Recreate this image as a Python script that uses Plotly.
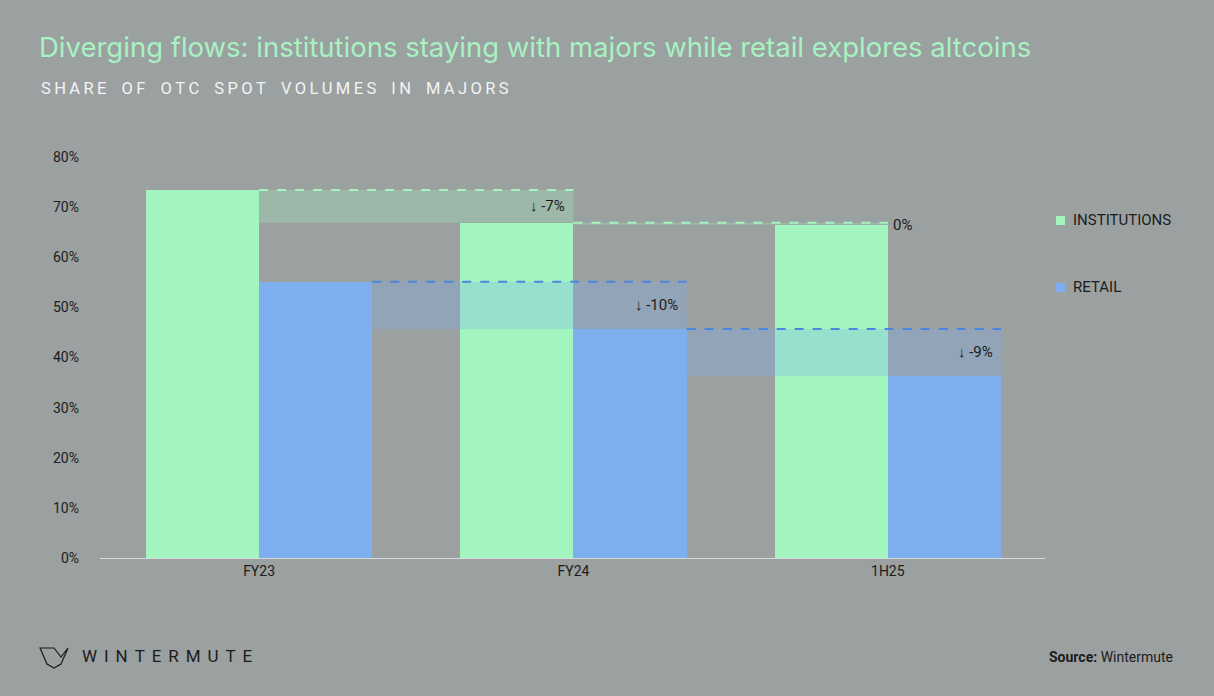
import plotly.graph_objects as go

categories = ["FY23", "FY24", "1H25"]
institutions = [73.4, 66.9, 66.5]
retail = [55.1, 45.7, 36.3]
change_inst = ["↓ -7%", "0%"]
change_retail = ["↓ -10%", "↓ -9%"]
y_ticks = [0, 10, 20, 30, 40, 50, 60, 70, 80]

BG = "#9ba0a0"
GREEN = "#a3f5c0"
BLUE = "#7eaeee"
W = 0.36
L, R, T, B = 100, 169, 157, 138
PW, PH = 1214 - L - R, 696 - T - B

def px(x):
    return (x - L) / PW
def py(y):
    return (696 - B - y) / PH

xs = list(range(len(categories)))
fig = go.Figure()
fig.add_bar(x=[i - W / 2 for i in xs], y=institutions, width=W, marker_color=GREEN,
            marker_line_width=0, name="INSTITUTIONS", showlegend=False)
fig.add_bar(x=[i + W / 2 for i in xs], y=retail, width=W, marker_color=BLUE,
            marker_line_width=0, name="RETAIL", showlegend=False)

shapes = []
annots = []
for i in range(len(categories) - 1):
    x0, x1 = i, i + 1
    a, b = institutions[i], institutions[i + 1]
    shapes.append(dict(type="rect", x0=x0, x1=x1, y0=min(a, b), y1=max(a, b), xref="x", yref="y",
                       fillcolor="rgba(163,245,192,0.28)", line_width=0, layer="above"))
    shapes.append(dict(type="line", x0=x0, x1=x1, y0=a, y1=a, xref="x", yref="y",
                       line=dict(color=GREEN, width=2, dash="dash"), layer="above"))
    big = abs(a - b) > 1
    annots.append(dict(x=x1 - 0.02 if big else x1 + 0.01, y=(a + b) / 2 if big else a,
                       xref="x", yref="y", yshift=0 if big else -2,
                       text=change_inst[i], showarrow=False, xanchor="right" if big else "left",
                       font=dict(size=15, color="#1c1c1c")))
    x0, x1 = i + W, i + 1 + W
    a, b = retail[i], retail[i + 1]
    shapes.append(dict(type="rect", x0=x0, x1=x1, y0=min(a, b), y1=max(a, b), xref="x", yref="y",
                       fillcolor="rgba(126,174,238,0.3)", line_width=0, layer="above"))
    shapes.append(dict(type="line", x0=x0, x1=x1, y0=a, y1=a, xref="x", yref="y",
                       line=dict(color="#4a86e0", width=2, dash="dash"), layer="above"))
    annots.append(dict(x=x1 - 0.02, y=(a + b) / 2, xref="x", yref="y", text=change_retail[i],
                       showarrow=False, xanchor="right", font=dict(size=15, color="#1c1c1c")))

for lbl, col, yy in [("INSTITUTIONS", GREEN, 220), ("RETAIL", BLUE, 287)]:
    shapes.append(dict(type="rect", xref="paper", yref="paper", x0=px(1056), x1=px(1065),
                       y0=py(yy + 5), y1=py(yy - 4), fillcolor=col, line_width=0))
    annots.append(dict(xref="paper", yref="paper", x=px(1071), y=py(yy), text=lbl, showarrow=False,
                       xanchor="left", yanchor="middle", font=dict(size=15, color="#1c1c1c")))

def spaced(s, sep="\u2009"):
    return sep.join(s).replace(" ", "\u2002")

annots += [
    dict(xref="paper", yref="paper", x=px(37), y=py(47), text="Diverging flows: institutions staying with majors while retail explores altcoins",
         showarrow=False, xanchor="left", yanchor="middle", font=dict(size=27.5, color="#a8f2c2", family="Inter")),
    dict(xref="paper", yref="paper", x=px(39), y=py(89), text=spaced("SHARE OF OTC SPOT VOLUMES IN MAJORS"),
         showarrow=False, xanchor="left", yanchor="middle", font=dict(size=16.5, color="#f4f4f4")),
    dict(xref="paper", yref="paper", x=px(80), y=py(656), text=spaced("WINTERMUTE", "\u2009\u2009"),
         showarrow=False, xanchor="left", yanchor="middle", font=dict(size=17, color="#1c1c1c")),
    dict(xref="paper", yref="paper", x=px(1175), y=py(657), text="<b>Source:</b> Wintermute",
         showarrow=False, xanchor="right", yanchor="middle", font=dict(size=14, color="#1c1c1c")),
]
path = "M {} {} L {} {} L {} {} L {} {} L {} {} L {} {} L {} {} Z".format(
    px(40), py(648), px(47), py(664), px(54), py(668), px(61), py(664), px(68), py(648),
    px(61), py(657), px(54), py(648))
shapes.append(dict(type="path", xref="paper", yref="paper", path=path,
                   line=dict(color="#1c1c1c", width=1.2)))

fig.update_layout(
    width=1214, height=696, paper_bgcolor=BG, plot_bgcolor=BG,
    margin=dict(l=L, r=R, t=T, b=B), barmode="overlay", bargap=0,
    font=dict(family="Roboto", color="#1c1c1c", size=14),
    shapes=shapes, annotations=annots, showlegend=False,
    xaxis=dict(range=[-0.506, 2.5], tickvals=xs, ticktext=categories, showgrid=False,
               zeroline=False, showline=True, linecolor="#d8dcdc", linewidth=1, ticks="",
               tickfont=dict(size=14), fixedrange=True),
    yaxis=dict(range=[0, 80], tickvals=y_ticks, ticktext=[f"{v}%" for v in y_ticks],
               showgrid=False, zeroline=False, ticks="", ticklabelstandoff=20,
               tickfont=dict(size=14), fixedrange=True),
)
fig.write_html("out.html", config={"displayModeBar": False},
               post_script="document.body.style.margin='0';document.body.style.background='#9ba0a0';")
